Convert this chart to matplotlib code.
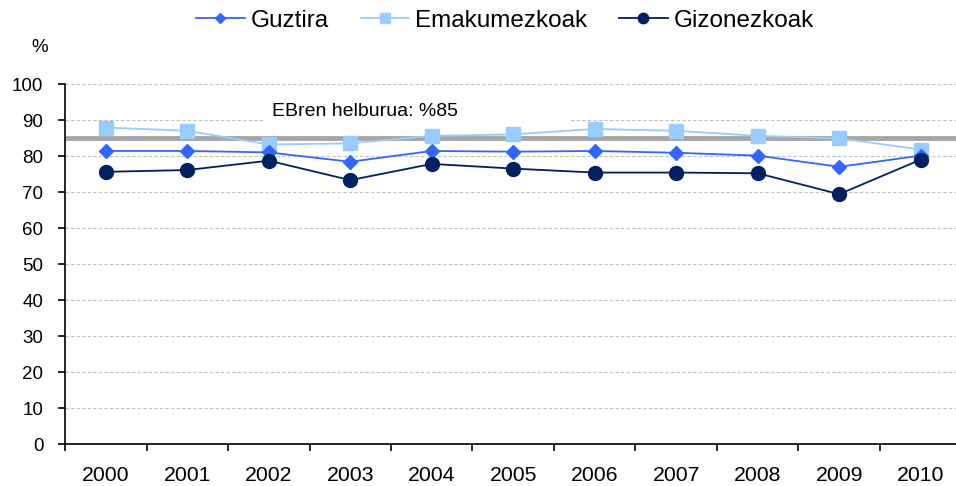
import matplotlib.pyplot as plt
from matplotlib.patches import Rectangle
import numpy as np

plt.rcParams['font.family'] = ['Liberation Sans', 'DejaVu Sans']

years = ['2000', '2001', '2002', '2003', '2004', '2005', '2006', '2007', '2008', '2009', '2010']
guztira = [81.4, 81.4, 81.0, 78.4, 81.4, 81.2, 81.4, 80.9, 80.1, 77.0, 80.1]
emakumezkoak = [87.9, 87.0, 83.2, 83.5, 85.6, 86.0, 87.5, 87.0, 85.6, 84.9, 81.8]
gizonezkoak = [75.6, 76.1, 78.7, 73.3, 77.8, 76.5, 75.4, 75.4, 75.2, 69.4, 79.0]
helburua = 85

x = np.arange(len(years))

fig = plt.figure(figsize=(9.56, 4.86), dpi=100)
ax = fig.add_axes([65 / 956, 42 / 486, 896.5 / 956, 360 / 486])

ax.yaxis.grid(True, linestyle=(0, (3, 2)), color='#c0c0c0', linewidth=0.8, zorder=0)
ax.set_axisbelow(True)

# white label box hides the gridline behind the target text
ax.add_patch(Rectangle((1.95, 88.3), 3.75, 8.5, facecolor='white', edgecolor='none', zorder=1))

ax.axhline(helburua, xmin=3 / 896.5, color='#a6a6a6', linewidth=3.5, zorder=2)
ax.text(2.04, 92.3, 'EBren helburua: %' + str(helburua), fontsize=14, va='center', ha='left', zorder=3)

ax.plot(x, guztira, color='#3366ff', marker='D', markersize=7, linewidth=1.3,
        label='Guztira', zorder=5)
ax.plot(x, emakumezkoak, color='#99ccff', marker='s', markersize=9.5, linewidth=1.3,
        label='Emakumezkoak', zorder=4)
ax.plot(x, gizonezkoak, color='#002060', marker='o', markersize=10, linewidth=1.3,
        label='Gizonezkoak', zorder=6)

ax.set_xlim(-0.5, len(years) - 0.5)
ax.set_ylim(0, 100)
ax.set_yticks(range(0, 101, 10))
ax.set_xticks(x)
ax.set_xticklabels(years)
ax.set_xticks(np.arange(-0.5, len(years)), minor=True)
ax.tick_params(axis='x', which='major', length=0, pad=15.5, labelsize=15.3)
ax.tick_params(axis='x', which='minor', length=5, width=1.2, direction='out')
ax.tick_params(axis='y', length=5, width=1.2, direction='out', labelsize=13.5, pad=10.5)

for s in ['top', 'right']:
    ax.spines[s].set_visible(False)
for s in ['left', 'bottom']:
    ax.spines[s].set_linewidth(1.2)

ygrid = ax.get_ygridlines()
ygrid[0].set_visible(False)

fig.text(40 / 956, 1 - 47 / 486, '%', fontsize=13.5, ha='center', va='center')

fig.legend(loc='center', bbox_to_anchor=(505 / 956, 1 - 21 / 486), ncol=3, frameon=False,
           fontsize=17.5, handlelength=2.0, columnspacing=1.3, handletextpad=0.25,
           markerscale=0.75)

fig.savefig('out.png', dpi=100)
